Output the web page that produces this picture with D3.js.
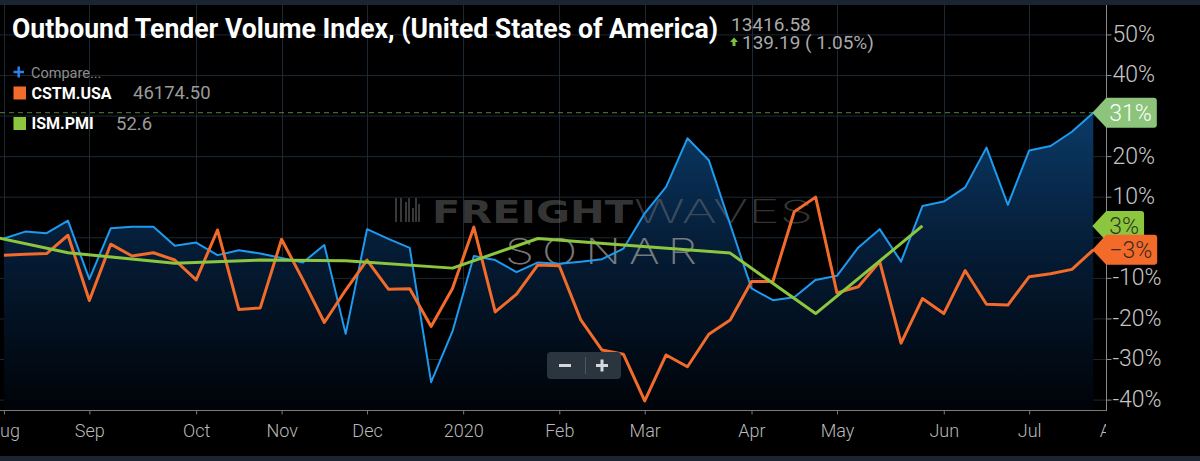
<!DOCTYPE html>
<html>
<head>
<meta charset="utf-8">
<script src="https://cdn.jsdelivr.net/npm/d3@7"></script>
<style>
body { margin: 0; background: #000; overflow: hidden; }
svg { display: block; font-family: Roboto, "Noto Sans", sans-serif; }
</style>
</head>
<body>
<svg width="1200" height="461"></svg>
<script>
// weekly points, Sunday Aug 4 2019 .. Jul 26 2020 (index 0..51)
var tickLabels = ["Aug", "Sep", "Oct", "Nov", "Dec", "2020", "Feb", "Mar", "Apr", "May", "Jun", "Jul", "Aug"];
var tickWeek = [0, 4, 9, 13, 17, 21.5, 26, 30, 35, 39, 44, 48, 52];
var pctTicks = [-40, -30, -20, -10, 0, 10, 20, 30, 40, 50];

// Outbound Tender Volume Index, % change
var otvi = [-0.3, 1.4, 1.0, 4.1, -10.3, 2.2, 2.6, 2.6, -2.1, -1.3,
            -4.4, -3.2, -4.0, -5.1, -6.2, -1.9, -23.8, 2.0, -0.4, -2.6,
            -35.7, -23.2, -4.6, -5.6, -8.6, -6.2, -6.5, -6.0, -5.4, -2.8,
            5.9, 12.4, 24.4, 19.0, 3.2, -12.6, -15.5, -14.8, -10.5, -9.5,
            -2.5, 2.0, -6.0, 7.7, 8.8, 12.3, 22.1, 8.0, 21.4, 22.5,
            26.0, 30.7];
// CSTM.USA, % change
var cstm = [-4.4, -4.2, -4.0, 0.5, -15.6, -1.7, -4.6, -3.8, -5.6, -10.5,
            1.8, -17.8, -17.4, -0.5, -10.5, -21.0, -13.0, -5.6, -12.8, -12.7,
            -22.0, -12.6, 2.5, -18.4, -14.0, -6.8, -7.0, -20.3, -27.8, -28.8,
            -40.3, -29.0, -31.9, -23.9, -20.4, -10.9, -10.9, 6.3, 9.9, -13.7,
            -12.2, -6.0, -26.1, -15.1, -18.8, -8.2, -16.5, -16.7, -9.7, -9.0,
            -7.9, -3.1];
// ISM.PMI, monthly (last week of each month), % change
var pmiWeek = [-1, 3, 8, 12, 16, 21, 25, 29, 34, 38, 43];
var pmi = [0.7, -3.8, -6.4, -5.6, -5.8, -7.6, -0.3, -1.9, -3.9, -18.8, 2.8];

var svg = d3.select("svg"),
    plotRight = 1106, plotTop = 5, plotBottom = 410;

var x = d3.scaleLinear().domain([0, 51]).range([3.9, 1093.3]);
var y = d3.scaleLinear().domain([-40, 50]).range([399.6, 34.4]);

svg.append("rect").attr("width", 1200).attr("height", 461).attr("fill", "#000");
svg.append("rect").attr("width", 1200).attr("height", 5).attr("fill", "#1a2531");
svg.append("rect").attr("y", 456).attr("width", 1200).attr("height", 5).attr("fill", "#1a2531");

var defs = svg.append("defs");
defs.append("clipPath").attr("id", "plot")
  .append("rect").attr("x", 0).attr("y", plotTop)
    .attr("width", plotRight).attr("height", plotBottom - plotTop);
// in the x axis group's own coordinates
defs.append("clipPath").attr("id", "xclip")
  .append("rect").attr("x", 0).attr("y", -2)
    .attr("width", plotRight).attr("height", 45);
var grad = defs.append("linearGradient").attr("id", "fade")
    .attr("gradientUnits", "userSpaceOnUse")
    .attr("x1", 0).attr("x2", 0).attr("y1", 110).attr("y2", plotBottom);
grad.append("stop").attr("offset", 0).attr("stop-color", "#0b3b68");
grad.append("stop").attr("offset", 0.45).attr("stop-color", "#051d37");
grad.append("stop").attr("offset", 1).attr("stop-color", "#000308");

// grid
var grid = svg.append("g").attr("stroke", "#1c2833").attr("stroke-width", 1);
grid.selectAll(".h").data(pctTicks).enter().append("line")
    .attr("x1", 0).attr("x2", plotRight)
    .attr("y1", function(d) { return y(d) + 0.5; })
    .attr("y2", function(d) { return y(d) + 0.5; });
grid.selectAll(".v").data(tickWeek.filter(function(d) { return x(d) < plotRight; })).enter().append("line")
    .attr("x1", function(d) { return Math.round(x(d)) + 0.5; })
    .attr("x2", function(d) { return Math.round(x(d)) + 0.5; })
    .attr("y1", plotTop).attr("y2", plotBottom);

var plot = svg.append("g").attr("clip-path", "url(#plot)");

// area under tender index
plot.append("path")
    .datum(otvi)
    .attr("fill", "url(#fade)")
    .attr("d", d3.area()
      .x(function(d, i) { return x(i); })
      .y0(plotBottom)
      .y1(function(d) { return y(d); }));

// watermark
var wm = plot.append("g").attr("fill", "#8c8c8c").attr("fill-opacity", 0.4);
[4, 9, 14, 17, 21, 24, 27].forEach(function(bx, i) {
  var h = [24, 24, 20, 24, 14, 24, 18][i];
  wm.append("rect").attr("x", 391 + bx).attr("y", 222 - h).attr("width", 2).attr("height", h);
});
wm.append("text").attr("x", 432).attr("y", 222.5)
    .attr("font-family", "DejaVu Sans").attr("font-weight", 700).attr("font-size", 32)
    .attr("textLength", 201).attr("lengthAdjust", "spacingAndGlyphs").text("FREIGHT");
wm.append("text").attr("x", 634).attr("y", 222.5)
    .attr("font-family", "Inter, Lato").attr("font-weight", 200).attr("font-size", 32)
    .attr("textLength", 179).attr("lengthAdjust", "spacingAndGlyphs").text("WAVES");
wm.append("text").attr("x", 505).attr("y", 264)
    .attr("font-family", "Inter, Lato").attr("font-weight", 200).attr("font-size", 35)
    .attr("fill-opacity", 0.85).attr("letter-spacing", 6)
    .attr("textLength", 200).attr("lengthAdjust", "spacingAndGlyphs").text("SONAR");

// dashed guide at last tender value
plot.append("line")
    .attr("x1", 0).attr("x2", x(otvi.length - 1))
    .attr("y1", y(otvi[otvi.length - 1])).attr("y2", y(otvi[otvi.length - 1]))
    .attr("stroke", "#55823a").attr("stroke-dasharray", "5,4").attr("stroke-width", 1);

var line = d3.line()
    .x(function(d, i) { return x(i); })
    .y(function(d) { return y(d); });

plot.append("path").datum(otvi)
    .attr("fill", "none").attr("stroke", "#1d9bf0").attr("stroke-width", 2)
    .attr("stroke-linejoin", "round").attr("d", line);
plot.append("path").datum(cstm)
    .attr("fill", "none").attr("stroke", "#f26b2b").attr("stroke-width", 3)
    .attr("stroke-linejoin", "round").attr("d", line);
plot.append("path").datum(pmi)
    .attr("fill", "none").attr("stroke", "#8cc63f").attr("stroke-width", 3)
    .attr("stroke-linejoin", "round")
    .attr("d", d3.line()
      .x(function(d, i) { return x(pmiWeek[i]); })
      .y(function(d) { return y(d); }));

// x axis
svg.append("line").attr("x1", 0).attr("x2", plotRight)
    .attr("y1", plotBottom + 0.5).attr("y2", plotBottom + 0.5)
    .attr("stroke", "#7a7a7a");
var xAxis = svg.append("g")
    .attr("transform", "translate(0," + (plotBottom + 0.5) + ")")
    .attr("clip-path", "url(#xclip)")
    .call(d3.axisBottom(x)
      .tickValues(tickWeek)
      .tickFormat(function(d, i) { return tickLabels[i]; })
      .tickSize(4).tickPadding(10));
xAxis.select(".domain").remove();
xAxis.selectAll(".tick line").attr("stroke", "#7a7a7a");
xAxis.selectAll("text").attr("fill", "#b9b9b9").attr("font-size", 18)
    .attr("font-family", "Roboto").attr("font-weight", 300);

// y axis on the right
svg.append("line").attr("x1", plotRight + 0.5).attr("x2", plotRight + 0.5)
    .attr("y1", plotTop).attr("y2", plotBottom + 1)
    .attr("stroke", "#8a8a8a");
var yAxis = svg.append("g")
    .attr("transform", "translate(" + (plotRight + 0.5) + ",0)")
    .call(d3.axisRight(y)
      .tickValues(pctTicks)
      .tickFormat(function(d) { return d + "%"; })
      .tickSize(5).tickPadding(1));
yAxis.select(".domain").remove();
yAxis.selectAll(".tick line").attr("stroke", "#8a8a8a");
yAxis.selectAll("text").attr("fill", "#c6c6c6").attr("font-size", 23)
    .attr("font-family", "Roboto").attr("font-weight", 300).attr("dy", "0.3em");

// end-value tags
function tag(v, bg, fg) {
  var cy = y(v), x0 = x(51) - 1;
  var g = svg.append("g");
  var path = g.append("path").attr("fill", bg);
  var t = g.append("text").attr("x", x0 + 17).attr("y", cy).attr("dy", "0.36em")
      .attr("font-size", 23).attr("font-weight", 300).attr("fill", fg)
      .text(d3.format(".0f")(v) + "%");
  var x1 = x0 + 17 + t.node().getComputedTextLength() + 5, r = 3;
  path.attr("d", "M" + x0 + "," + cy +
    "L" + (x0 + 14) + "," + (cy - 15) +
    "L" + (x1 - r) + "," + (cy - 15) +
    "Q" + x1 + "," + (cy - 15) + " " + x1 + "," + (cy - 15 + r) +
    "L" + x1 + "," + (cy + 15 - r) +
    "Q" + x1 + "," + (cy + 15) + " " + (x1 - r) + "," + (cy + 15) +
    "L" + (x0 + 14) + "," + (cy + 15) + "Z");
}
tag(otvi[otvi.length - 1], "#8bc47a", "#ffffff");
tag(pmi[pmi.length - 1], "#8cc63f", "#2c3520");
tag(cstm[cstm.length - 1], "#f26b2b", "#40281c");

// zoom control
var zc = svg.append("g");
zc.append("rect").attr("x", 547).attr("y", 352).attr("width", 74).attr("height", 27)
    .attr("rx", 4).attr("fill", "#2a3540");
zc.append("line").attr("x1", 585.5).attr("x2", 585.5).attr("y1", 357).attr("y2", 374)
    .attr("stroke", "#4b5763");
zc.append("line").attr("x1", 559).attr("x2", 571).attr("y1", 365.5).attr("y2", 365.5)
    .attr("stroke", "#d5d8db").attr("stroke-width", 3);
zc.append("line").attr("x1", 596).attr("x2", 608).attr("y1", 365.5).attr("y2", 365.5)
    .attr("stroke", "#d5d8db").attr("stroke-width", 3);
zc.append("line").attr("x1", 602).attr("x2", 602).attr("y1", 359.5).attr("y2", 371.5)
    .attr("stroke", "#d5d8db").attr("stroke-width", 3);

// title and quote
svg.append("text").attr("x", 12).attr("y", 38)
    .attr("font-size", 27).attr("font-weight", 700).attr("fill", "#ffffff")
    .attr("textLength", 706).attr("lengthAdjust", "spacingAndGlyphs")
    .text("Outbound Tender Volume Index, (United States of America)");
svg.append("text").attr("x", 731).attr("y", 30.5)
    .attr("font-size", 19).attr("fill", "#a9a9a9").text("13416.58");
svg.append("path").attr("d", "M730,42 L734,37.5 L738,42 L735.5,42 L735.5,46 L732.5,46 L732.5,42 Z")
    .attr("fill", "#7cc241");
svg.append("text").attr("x", 742).attr("y", 48.5)
    .attr("font-size", 19).attr("fill", "#a9a9a9").attr("xml:space", "preserve")
    .text("139.19 ( 1.05%)");

// legend
svg.append("path").attr("d", "M13.5,72 H24 M18.7,66.5 V77.5")
    .attr("stroke", "#2c80e8").attr("stroke-width", 2.5);
svg.append("text").attr("x", 31).attr("y", 77.5)
    .attr("font-size", 14.5).attr("fill", "#8d8d8d").text("Compare...");

var legend = [
  {name: "CSTM.USA", value: "46174.50", color: "#f26b2b", y: 98.5, vx: 133},
  {name: "ISM.PMI", value: "52.6", color: "#8cc63f", y: 129, vx: 116}
];
var lg = svg.selectAll(".lg").data(legend).enter().append("g");
lg.append("rect").attr("x", 13.5).attr("y", function(d) { return d.y - 12; })
    .attr("width", 12.5).attr("height", 13).attr("fill", function(d) { return d.color; });
lg.append("text").attr("x", 31.5).attr("y", function(d) { return d.y; })
    .attr("font-size", 16).attr("font-weight", 700).attr("fill", "#ffffff")
    .text(function(d) { return d.name; });
lg.append("text").attr("x", function(d) { return d.vx; }).attr("y", function(d) { return d.y + 0.5; })
    .attr("font-size", 18.5).attr("fill", "#9b9b9b")
    .text(function(d) { return d.value; });
</script>
</body>
</html>
